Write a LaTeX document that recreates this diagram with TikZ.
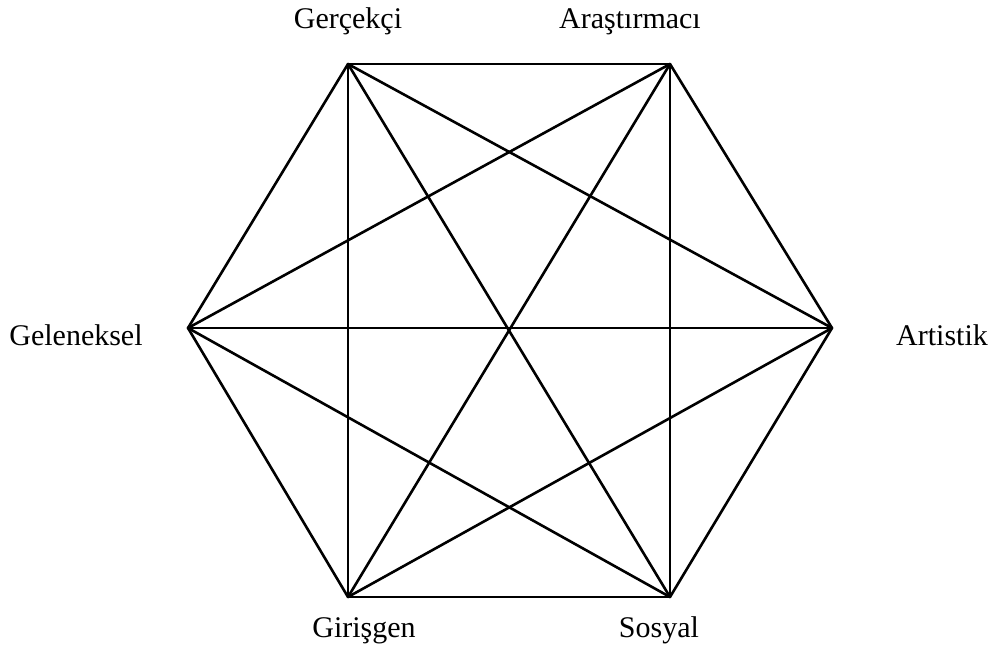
\documentclass[tikz,border=0pt]{standalone}
\usepackage{fontspec}
\setmainfont{Liberation Serif}
\begin{document}
\begin{tikzpicture}[x=0.5pt, y=-0.5pt,
			edge/.style={line width=1.3pt, line cap=round, line join=round},
			lbl/.style={font=\fontsize{15}{18}\selectfont, anchor=base, inner sep=0pt}
			]
			\useasboundingbox (0,0) rectangle (992,650);
			% hexagon corners
			\coordinate (ger) at (348,64);
			\coordinate (ara) at (670,64);
			\coordinate (art) at (832,328);
			\coordinate (sos) at (670,597);
			\coordinate (gir) at (348,597);
			\coordinate (gel) at (188,328);
			
			\node[lbl] (lger) at (348,28) {Gerçekçi};
			\node[lbl] (lara) at (630,28) {Araştırmacı};
			\node[lbl] (lart) at (942,345) {Artistik};
			\node[lbl] (lsos) at (659,637) {Sosyal};
			\node[lbl] (lgir) at (364,637) {Girişgen};
			\node[lbl] (lgel) at (76,345) {Geleneksel};
			
			% every pair joined
			\foreach \a/\b in {ger/ara, ger/art, ger/sos, ger/gir, ger/gel,
				ara/art, ara/sos, ara/gir, ara/gel,
				art/sos, art/gir, art/gel,
				sos/gir, sos/gel,
				gir/gel}
				\draw[edge] (\a) -- (\b);
	\end{tikzpicture}
\end{document}
